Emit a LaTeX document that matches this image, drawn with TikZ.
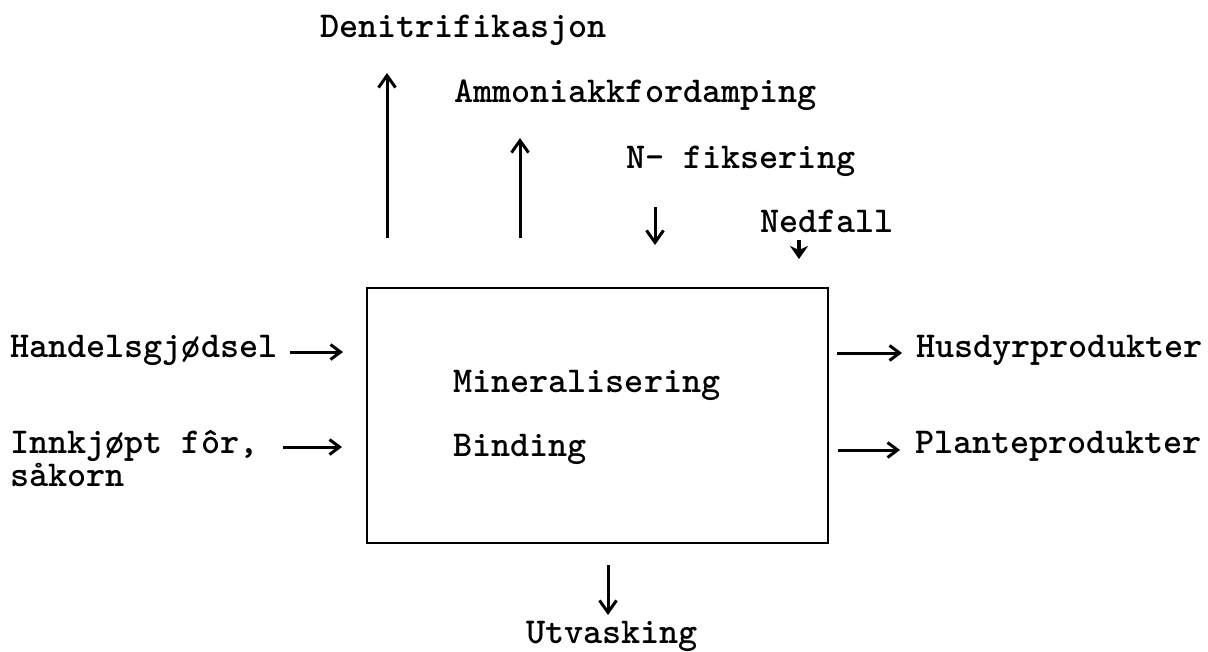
\documentclass[tikz,border=0pt]{standalone}
\usetikzlibrary{arrows.meta}
\begin{document}
\begin{tikzpicture}[x=1pt,y=-1pt,
  lbl/.style={anchor=base west,inner sep=0pt,outer sep=0pt,
    font=\fontsize{36.4pt}{40pt}\ttfamily\bfseries\selectfont},
  vup/.style={line width=3pt,-{Straight Barb[length=12pt,width=17pt,line width=3pt]}},
  hor/.style={line width=3pt,-{Straight Barb[length=10pt,width=15pt,line width=3pt]}},
  small/.style={line width=3.5pt,-{Stealth[length=13pt,width=18pt,inset=4pt]}}]
\useasboundingbox (0,0) rectangle (1208,651);
% box
\node (box) [draw,line width=2.8pt,minimum width=461pt,minimum height=255pt,inner sep=0pt,outer sep=0pt] at (597.5,415.5) {};
% labels
\node (den)  [lbl] at (320,37)  {Denitrifikasjon};
\node (amm)  [lbl] at (454,102) {Ammoniakkfordamping};
\node (nfix) [lbl] at (626,168) {N- fiksering};
\node (ned)  [lbl] at (760,232) {Nedfall};
\node (han)  [lbl] at (10,357)  {Handelsgjødsel};
\node (inn)  [lbl] at (10,453)  {Innkjøpt fôr,};
\node (sak)  [lbl] at (10,486)  {såkorn};
\node (min)  [lbl] at (453,392) {Mineralisering};
\node (bind) [lbl] at (453,456) {Binding};
\node (hus)  [lbl] at (916,357) {Husdyrprodukter};
\node (pla)  [lbl] at (915,453) {Planteprodukter};
\node (utv)  [lbl] at (526,643) {Utvasking};
% arrow end points
\coordinate (a1s) at (387,238); \coordinate (a1e) at (387,73);
\coordinate (a2s) at (520,238); \coordinate (a2e) at (520,138);
\coordinate (a3s) at (655,207); \coordinate (a3e) at (655,245);
\coordinate (a4s) at (799,240); \coordinate (a4e) at (799,259);
\coordinate (a5s) at (290,352); \coordinate (a5e) at (343,352);
\coordinate (a6s) at (283,447); \coordinate (a6e) at (342,447);
\coordinate (a7s) at (837,353); \coordinate (a7e) at (902,353);
\coordinate (a8s) at (838,450); \coordinate (a8e) at (900,450);
\coordinate (a9s) at (608,565); \coordinate (a9e) at (608,615);
% arrows
\draw[vup] (a1s) -- (a1e);
\draw[vup] (a2s) -- (a2e);
\draw[vup] (a3s) -- (a3e);
\draw[small] (a4s) -- (a4e);
\draw[hor] (a5s) -- (a5e);
\draw[hor] (a6s) -- (a6e);
\draw[hor] (a7s) -- (a7e);
\draw[hor] (a8s) -- (a8e);
\draw[vup] (a9s) -- (a9e);
\end{tikzpicture}
\end{document}
